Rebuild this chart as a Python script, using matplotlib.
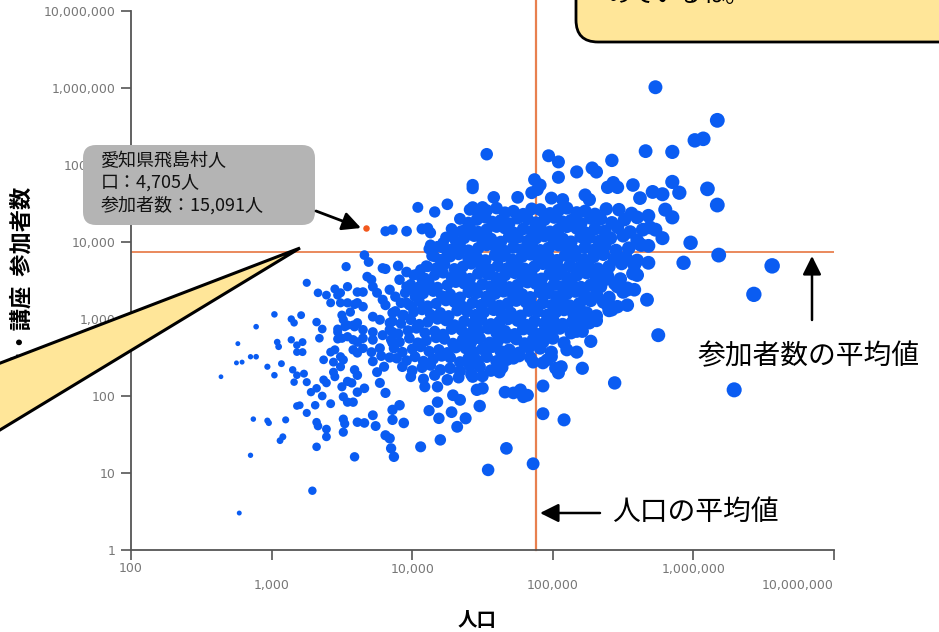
import numpy as np
import matplotlib
matplotlib.use('Agg')
import matplotlib.pyplot as plt
from matplotlib.patches import FancyBboxPatch, Polygon, FancyArrowPatch
from matplotlib.transforms import IdentityTransform

plt.rcParams['font.family'] = ['Noto Sans CJK JP', 'DejaVu Sans']

# population (log10) of each municipality
pop_log10 = [
    2.64, 2.76, 2.75, 2.79, 2.85, 2.89, 2.89, 2.77, 2.85, 2.87,
    2.97, 2.97, 2.98, 3.02, 3.02, 3.04, 3.05, 3.07, 3.08, 3.06,
    3.10, 3.14, 3.16, 3.14, 3.18, 3.22, 3.18, 3.22, 3.15, 3.18,
    3.23, 3.16, 3.25, 3.18, 3.20, 3.21, 3.25, 3.25, 3.28, 3.32,
    3.29, 3.31, 3.32, 3.32, 3.32, 3.33, 3.33, 3.34, 3.36, 3.36,
    3.37, 3.37, 3.39, 3.39, 3.42, 3.39, 3.39, 3.42, 3.45, 3.49,
    3.44, 3.42, 3.44, 3.45, 3.45, 3.47, 3.47, 3.47, 3.47, 3.50,
    3.49, 3.50, 3.51, 3.54, 3.51, 3.49, 3.50, 3.51, 3.51, 3.52,
    3.51, 3.54, 3.54, 3.57, 3.54, 3.58, 3.56, 3.58, 3.61, 3.58,
    3.61, 3.58, 3.61, 3.59, 3.59, 3.61, 3.61, 3.61, 3.61, 3.81,
    3.86, 3.96, 4.04, 4.16, 4.25, 4.43, 4.43, 4.07, 4.11, 4.13,
    4.12, 4.29, 4.38, 3.66, 3.69, 3.53, 3.81, 3.79, 3.90, 3.68,
    3.71, 3.72, 3.65, 3.49, 3.75, 3.84, 3.54, 3.59, 3.65, 3.79,
    3.81, 3.88, 3.72, 3.77, 3.86, 3.93, 3.52, 3.59, 3.65, 3.72,
    3.79, 3.84, 3.86, 3.54, 3.65, 3.72, 3.86, 3.96, 4.01, 4.06,
    3.91, 3.96, 4.00, 4.07, 4.09, 4.04, 3.96, 4.00, 4.13, 4.18,
    4.22, 4.16, 4.20, 4.25, 4.11, 4.53, 4.97, 5.04, 5.04, 5.17,
    5.28, 5.31, 5.42, 4.87, 4.91, 4.75, 4.58, 4.99, 5.07, 5.23,
    5.26, 5.39, 5.43, 4.85, 4.89, 5.46, 5.57, 5.62, 4.50, 4.43,
    5.73, 6.17, 6.01, 6.07, 5.66, 5.85, 5.85, 5.90, 6.10, 6.17,
    5.71, 5.78, 5.80, 5.85, 5.68, 5.73, 5.78, 5.98, 6.18, 5.93,
    6.56, 6.43, 5.69, 5.62, 5.68, 5.68, 5.60, 5.75, 5.44, 6.29,
    4.93, 4.93, 5.08, 4.67, 4.86, 5.27, 5.21, 5.04, 5.06, 5.17,
    5.17, 5.10, 5.17, 4.96, 4.79, 4.82, 4.77, 4.72, 4.66, 4.67,
    4.72, 4.86, 4.93, 4.99, 5.02, 5.53, 5.58, 5.67, 5.53, 5.39,
    5.42, 5.46, 5.34, 5.26, 5.21, 5.24, 4.54, 4.48, 4.43, 4.46,
    4.50, 4.62, 3.87, 3.85, 4.06, 4.20, 3.81, 3.84, 3.94, 3.72,
    3.74, 3.66, 3.86, 3.86, 3.91, 4.12, 4.19, 4.28, 4.32, 4.38,
    4.29, 4.34, 3.61, 3.66, 4.18, 4.09, 4.18, 3.75, 3.77, 3.81,
    3.65, 3.71, 3.77, 3.72, 3.80, 3.84, 3.78,
    # core of the distribution
    4.41, 4.47, 4.53, 4.60, 4.66, 4.72, 4.79, 4.85, 4.91, 4.98, 5.04, 5.10, 5.17, 5.23, 5.30, 5.38, 5.47, 5.56,
    4.34, 4.40, 4.46, 4.52, 4.57, 4.63, 4.69, 4.75, 4.82, 4.88, 4.94, 5.01, 5.07, 5.13, 5.20, 5.27, 5.34, 5.42, 5.51, 5.60,
    4.28, 4.35, 4.41, 4.47, 4.53, 4.60, 4.66, 4.72, 4.79, 4.85, 4.91, 4.98, 5.04, 5.10, 5.17, 5.23, 5.30, 5.37, 5.46, 5.55, 5.64,
    4.24, 4.31, 4.37, 4.44, 4.50, 4.56, 4.63, 4.69, 4.75, 4.82, 4.88, 4.94, 5.01, 5.07, 5.13, 5.20, 5.26, 5.33, 5.41, 5.50, 5.60,
    4.21, 4.27, 4.34, 4.40, 4.47, 4.53, 4.59, 4.66, 4.72, 4.78, 4.85, 4.91, 4.97, 5.04, 5.10, 5.16, 5.23, 5.30, 5.37, 5.45, 5.54, 5.63,
    4.14, 4.20, 4.27, 4.33, 4.40, 4.46, 4.52, 4.59, 4.65, 4.71, 4.78, 4.84, 4.90, 4.97, 5.03, 5.09, 5.16, 5.22, 5.29, 5.36, 5.44, 5.52, 5.60,
    4.10, 4.17, 4.23, 4.30, 4.36, 4.42, 4.49, 4.55, 4.61, 4.68, 4.74, 4.80, 4.87, 4.93, 4.99, 5.06, 5.12, 5.18, 5.25, 5.32, 5.40, 5.49, 5.58,
    4.03, 4.09, 4.16, 4.22, 4.28, 4.35, 4.41, 4.47, 4.54, 4.60, 4.66, 4.73, 4.79, 4.85, 4.92, 4.98, 5.04, 5.11, 5.17, 5.24, 5.31, 5.39, 5.48, 5.57,
    3.99, 4.05, 4.12, 4.18, 4.25, 4.31, 4.37, 4.44, 4.50, 4.56, 4.63, 4.69, 4.75, 4.82, 4.88, 4.94, 5.01, 5.07, 5.13, 5.20, 5.27, 5.35, 5.44, 5.53,
    3.95, 4.02, 4.08, 4.15, 4.21, 4.27, 4.34, 4.40, 4.46, 4.53, 4.59, 4.65, 4.72, 4.78, 4.84, 4.91, 4.97, 5.03, 5.10, 5.16, 5.23, 5.31, 5.40, 5.50,
    3.92, 3.98, 4.05, 4.11, 4.17, 4.24, 4.30, 4.36, 4.43, 4.49, 4.55, 4.62, 4.68, 4.74, 4.81, 4.87, 4.93, 5.00, 5.06, 5.12, 5.19, 5.27, 5.36, 5.46,
    3.88, 3.94, 4.01, 4.07, 4.13, 4.20, 4.26, 4.32, 4.39, 4.45, 4.51, 4.58, 4.64, 4.70, 4.77, 4.83, 4.89, 4.96, 5.02, 5.08, 5.15, 5.22, 5.31, 5.40,
    3.86, 3.92, 3.99, 4.05, 4.11, 4.18, 4.24, 4.30, 4.37, 4.43, 4.49, 4.56, 4.62, 4.68, 4.75, 4.81, 4.87, 4.94, 5.00, 5.07, 5.14, 5.22, 5.31,
    3.84, 3.90, 3.97, 4.03, 4.09, 4.16, 4.22, 4.28, 4.35, 4.41, 4.47, 4.54, 4.60, 4.66, 4.73, 4.79, 4.85, 4.92, 4.98, 5.05, 5.13, 5.21,
    3.85, 3.91, 3.98, 4.04, 4.10, 4.17, 4.23, 4.29, 4.36, 4.42, 4.48, 4.55, 4.61, 4.67, 4.74, 4.80, 4.86, 4.93, 5.00, 5.08,
    3.87, 3.93, 4.00, 4.06, 4.12, 4.19, 4.25, 4.31, 4.38, 4.44, 4.50, 4.57, 4.63, 4.69, 4.76, 4.83, 4.91, 4.99,
    3.89, 3.96, 4.02, 4.08, 4.15, 4.21, 4.27, 4.34, 4.40, 4.46, 4.53, 4.60, 4.68, 4.76, 4.84,
    3.93, 4.00, 4.07, 4.13, 4.20, 4.27, 4.34, 4.41, 4.48, 4.56, 4.64,
    3.99, 4.08, 4.16, 4.25, 4.33, 4.42, 4.50,
]

# course participants (log10), same order as pop_log10
participants_log10 = [
    2.25, 2.68, 2.43, 2.44, 2.51, 2.51, 2.90, 0.48, 1.23, 1.70,
    2.38, 1.68, 1.65, 3.06, 2.27, 2.70, 2.64, 2.42, 1.47, 1.42,
    1.69, 3.00, 2.95, 2.73, 2.66, 2.70, 2.57, 2.57, 2.34, 2.27,
    2.29, 2.18, 2.18, 1.87, 1.88, 3.05, 3.47, 1.78, 2.05, 2.10,
    0.77, 1.88, 1.34, 2.96, 1.66, 1.61, 3.34, 2.75, 2.87, 2.00,
    2.47, 2.21, 2.17, 3.31, 3.21, 1.57, 1.47, 2.57, 2.60, 2.51,
    2.44, 1.90, 2.31, 2.25, 3.39, 3.31, 2.87, 2.83, 2.74, 2.75,
    3.21, 3.05, 2.99, 2.92, 2.47, 2.38, 2.12, 1.99, 1.70, 1.64,
    1.53, 3.42, 2.19, 2.17, 1.92, 1.92, 3.09, 2.92, 2.95, 2.73,
    2.70, 2.60, 2.56, 1.21, 2.34, 2.27, 3.35, 3.21, 1.66, 4.14,
    4.16, 4.14, 4.45, 4.39, 4.49, 4.74, 4.70, 4.17, 4.18, 4.12,
    3.91, 4.10, 4.16, 3.83, 3.74, 3.68, 3.65, 3.66, 3.69, 3.55,
    3.51, 3.42, 3.35, 3.34, 3.34, 3.38, 3.21, 3.19, 3.16, 3.25,
    3.18, 3.29, 3.03, 2.99, 3.08, 3.05, 2.90, 2.90, 2.86, 2.83,
    2.79, 2.95, 2.83, 2.77, 2.75, 2.73, 2.69, 3.61, 3.57, 3.64,
    3.51, 3.42, 3.38, 3.51, 3.42, 3.34, 3.21, 3.16, 3.96, 3.94,
    3.99, 3.81, 3.77, 3.86, 3.68, 5.14, 5.12, 5.04, 4.84, 4.91,
    4.96, 4.91, 5.06, 4.81, 4.74, 4.58, 4.58, 4.57, 4.55, 4.61,
    4.55, 4.71, 4.77, 4.64, 4.68, 4.71, 4.74, 4.57, 4.45, 4.45,
    6.01, 5.58, 5.32, 5.34, 5.18, 5.17, 4.78, 4.64, 4.69, 4.48,
    4.65, 4.62, 4.42, 4.32, 4.34, 4.16, 4.05, 3.99, 3.83, 3.73,
    3.69, 3.32, 4.19, 3.97, 3.95, 3.73, 3.57, 2.79, 2.17, 2.08,
    2.13, 1.77, 1.69, 1.32, 1.12, 2.71, 2.36, 2.30, 2.38, 2.84,
    2.95, 2.60, 2.57, 2.47, 1.99, 2.01, 2.08, 2.04, 2.05, 2.47,
    2.49, 2.44, 2.43, 2.51, 2.36, 3.38, 3.38, 3.25, 3.18, 3.18,
    3.12, 3.42, 3.42, 2.95, 2.99, 3.08, 1.04, 1.87, 2.25, 2.08,
    2.10, 2.31, 1.21, 1.32, 1.34, 1.43, 1.49, 1.45, 1.65, 1.75,
    1.61, 1.65, 1.82, 1.69, 1.88, 1.81, 1.71, 1.79, 1.60, 1.71,
    2.01, 1.95, 2.05, 2.10, 1.92, 2.12, 2.12, 2.31, 2.17, 2.04,
    2.62, 2.57, 2.62, 2.45, 2.38, 2.50, 2.52,
    # core of the distribution
    4.42, 4.37, 4.41, 4.44, 4.38, 4.40, 4.36, 4.43, 4.42, 4.37, 4.41, 4.44, 4.38, 4.40, 4.36, 4.43, 4.42, 4.37,
    4.30, 4.25, 4.29, 4.32, 4.26, 4.28, 4.24, 4.31, 4.30, 4.25, 4.29, 4.32, 4.26, 4.28, 4.24, 4.31, 4.30, 4.25, 4.29, 4.32,
    4.17, 4.14, 4.19, 4.13, 4.16, 4.20, 4.18, 4.12, 4.17, 4.14, 4.19, 4.13, 4.16, 4.20, 4.18, 4.12, 4.17, 4.14, 4.19, 4.13, 4.16,
    4.06, 4.01, 4.05, 4.08, 4.02, 4.04, 4.00, 4.07, 4.06, 4.01, 4.05, 4.08, 4.02, 4.04, 4.00, 4.07, 4.06, 4.01, 4.05, 4.08, 4.02,
    3.93, 3.90, 3.95, 3.89, 3.92, 3.96, 3.94, 3.88, 3.93, 3.90, 3.95, 3.89, 3.92, 3.96, 3.94, 3.88, 3.93, 3.90, 3.95, 3.89, 3.92, 3.96,
    3.82, 3.77, 3.81, 3.84, 3.78, 3.80, 3.76, 3.83, 3.82, 3.77, 3.81, 3.84, 3.78, 3.80, 3.76, 3.83, 3.82, 3.77, 3.81, 3.84, 3.78, 3.80, 3.76,
    3.69, 3.66, 3.71, 3.65, 3.68, 3.72, 3.70, 3.64, 3.69, 3.66, 3.71, 3.65, 3.68, 3.72, 3.70, 3.64, 3.69, 3.66, 3.71, 3.65, 3.68, 3.72, 3.70,
    3.58, 3.53, 3.57, 3.60, 3.54, 3.56, 3.52, 3.59, 3.58, 3.53, 3.57, 3.60, 3.54, 3.56, 3.52, 3.59, 3.58, 3.53, 3.57, 3.60, 3.54, 3.56, 3.52, 3.59,
    3.45, 3.42, 3.47, 3.41, 3.44, 3.48, 3.46, 3.40, 3.45, 3.42, 3.47, 3.41, 3.44, 3.48, 3.46, 3.40, 3.45, 3.42, 3.47, 3.41, 3.44, 3.48, 3.46, 3.40,
    3.34, 3.29, 3.33, 3.36, 3.30, 3.32, 3.28, 3.35, 3.34, 3.29, 3.33, 3.36, 3.30, 3.32, 3.28, 3.35, 3.34, 3.29, 3.33, 3.36, 3.30, 3.32, 3.28, 3.35,
    3.21, 3.18, 3.23, 3.17, 3.20, 3.24, 3.22, 3.16, 3.21, 3.18, 3.23, 3.17, 3.20, 3.24, 3.22, 3.16, 3.21, 3.18, 3.23, 3.17, 3.20, 3.24, 3.22, 3.16,
    3.10, 3.05, 3.09, 3.12, 3.06, 3.08, 3.04, 3.11, 3.10, 3.05, 3.09, 3.12, 3.06, 3.08, 3.04, 3.11, 3.10, 3.05, 3.09, 3.12, 3.06, 3.08, 3.04, 3.11,
    2.97, 2.94, 2.99, 2.93, 2.96, 3.00, 2.98, 2.92, 2.97, 2.94, 2.99, 2.93, 2.96, 3.00, 2.98, 2.92, 2.97, 2.94, 2.99, 2.93, 2.96, 3.00, 2.98,
    2.86, 2.81, 2.85, 2.88, 2.82, 2.84, 2.80, 2.87, 2.86, 2.81, 2.85, 2.88, 2.82, 2.84, 2.80, 2.87, 2.86, 2.81, 2.85, 2.88, 2.82, 2.84,
    2.73, 2.70, 2.75, 2.69, 2.72, 2.76, 2.74, 2.68, 2.73, 2.70, 2.75, 2.69, 2.72, 2.76, 2.74, 2.68, 2.73, 2.70, 2.75, 2.69,
    2.62, 2.57, 2.61, 2.64, 2.58, 2.60, 2.56, 2.63, 2.62, 2.57, 2.61, 2.64, 2.58, 2.60, 2.56, 2.63, 2.62, 2.57,
    2.49, 2.46, 2.51, 2.45, 2.48, 2.52, 2.50, 2.44, 2.49, 2.46, 2.51, 2.45, 2.48, 2.52, 2.50,
    2.38, 2.33, 2.37, 2.40, 2.34, 2.36, 2.32, 2.39, 2.38, 2.33, 2.37,
    2.25, 2.22, 2.27, 2.21, 2.24, 2.28, 2.26,
]

# highlighted village: 愛知県飛島村
tobishima_pop = 4705
tobishima_participants = 15091

# national averages
pop_mean = 76000
participants_mean = 7500

x_ticks = [100, 1000, 10000, 100000, 1000000, 10000000]
x_tick_labels = ['100', '1,000', '10,000', '100,000', '1,000,000', '10,000,000']
y_ticks = [1, 10, 100, 1000, 10000, 100000, 1000000, 10000000]
y_tick_labels = ['1', '10', '100', '1,000', '10,000', '100,000', '1,000,000', '10,000,000']

W, H = 939, 632
fig = plt.figure(figsize=(W / 100, H / 100), dpi=100)
ax = fig.add_axes([131 / W, 1 - 550 / H, (834 - 131) / W, (550 - 11) / H])
ax.set_xscale('log')
ax.set_yscale('log')
ax.set_xlim(100, 1e7)
ax.set_ylim(1, 1e7)

pop = 10 ** np.array(pop_log10)
participants = 10 ** np.array(participants_log10)
# marker diameter in pixels grows with population
diam = np.interp(pop_log10, [2.5, 2.8, 3.3, 4.5, 5.5, 6.5], [4.5, 5.0, 8.5, 12.5, 13.5, 15.5])
ax.scatter(pop, participants, s=(diam * 0.72) ** 2, color='#0a5cf2', linewidths=0, zorder=3)
ax.scatter([tobishima_pop], [tobishima_participants], s=(6.5 * 0.72) ** 2,
           color='#f2581d', linewidths=0, zorder=4)

# average lines
line_col = '#e8804f'
ax.plot([100, 1e7], [participants_mean, participants_mean], color=line_col, lw=1.3, zorder=1)
ax.plot([pop_mean, pop_mean], [1, 10 ** 7.16], color=line_col, lw=1.6, zorder=1, clip_on=False)

# axes styling
for side in ['top', 'right']:
    ax.spines[side].set_visible(False)
for side in ['left', 'bottom']:
    ax.spines[side].set_color('#555555')
    ax.spines[side].set_linewidth(1.3)
ax.xaxis.set_minor_locator(matplotlib.ticker.NullLocator())
ax.yaxis.set_minor_locator(matplotlib.ticker.NullLocator())
ax.set_xticks(x_ticks)
ax.set_xticklabels(x_tick_labels)
ax.set_yticks(y_ticks)
ax.set_yticklabels(y_tick_labels)
ax.tick_params(direction='out', length=7.5, width=1.2, color='#555555',
               labelcolor='#777777', labelsize=9)
ax.tick_params(axis='y', pad=3.5)
for label in ax.get_xticklabels() + ax.get_yticklabels():
    label.set_family('DejaVu Sans')
for i, tick in enumerate(ax.xaxis.get_major_ticks()):
    tick.set_pad(1.5 if i % 2 == 0 else 13.5)
ax.get_xticklabels()[-1].set_horizontalalignment('right')

ident = IdentityTransform()


def flip(y):
    return H - y


# axis titles
fig.text(22, flip(187), '学級・講座  参加者数', transform=ident, rotation=90,
         ha='center', va='top', fontsize=16, fontweight='bold')
fig.text(477, flip(611), '人口', transform=ident, ha='center', va='top',
         fontsize=14, fontweight='bold')

# speech bubble tail on the left
tail = Polygon([(300, flip(248)), (-10, flip(367)), (-10, flip(436))], closed=True,
               transform=ident, facecolor='#ffe699', edgecolor='black', lw=2.2, zorder=10)
fig.add_artist(tail)

# speech bubble at the top right
bubble = FancyBboxPatch((576, flip(42)), 420, 90, boxstyle='round,pad=0,rounding_size=22',
                        transform=ident, facecolor='#ffe699', edgecolor='black', lw=2, zorder=10)
fig.add_artist(bubble)
fig.text(608, flip(-4), 'めているね。', transform=ident, ha='left', va='center',
         fontsize=17, zorder=11)

# tooltip for 飛島村
tip = FancyBboxPatch((83, flip(225)), 232, 80, boxstyle='round,pad=0,rounding_size=13',
                     transform=ident, facecolor='#b4b4b4', edgecolor='none', zorder=10)
fig.add_artist(tip)
for text, y in [('愛知県飛島村人', 161), ('口：4,705人', 183), ('参加者数：15,091人', 205)]:
    fig.text(101, flip(y), text, transform=ident, ha='left', va='center',
             fontsize=13, color='#111111', zorder=11)


def arrow(x0, y0, x1, y1, lw):
    fig.add_artist(FancyArrowPatch((x0, flip(y0)), (x1, flip(y1)), transform=ident,
                                   arrowstyle='-|>,head_length=0.7,head_width=0.35',
                                   mutation_scale=16, color='black', lw=lw,
                                   shrinkA=0, shrinkB=0, zorder=12))


arrow(316, 211, 361, 228, 2.0)
arrow(812, 320, 812, 256, 1.8)
arrow(600, 513, 540, 513, 1.8)

fig.text(697, flip(356), '参加者数の平均値', transform=ident, ha='left', va='center', fontsize=20)
fig.text(612, flip(512), '人口の平均値', transform=ident, ha='left', va='center', fontsize=20)

fig.savefig('out.png', dpi=100, facecolor='white')
